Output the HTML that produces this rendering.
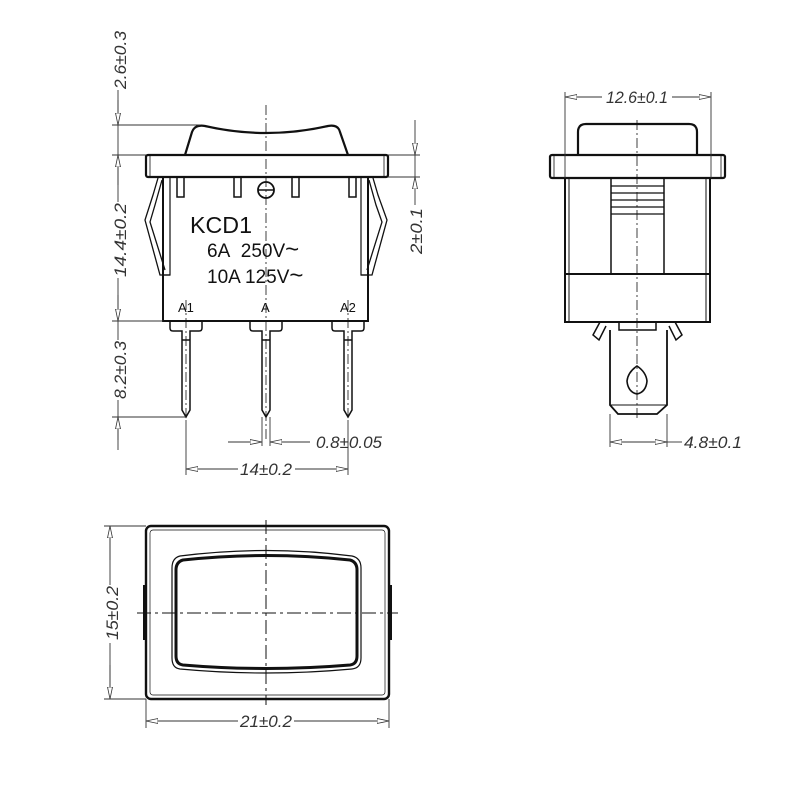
<!DOCTYPE html>
<html><head><meta charset="utf-8"><style>
html,body{margin:0;padding:0;background:#fff;}
svg{display:block}
.t{font-family:"Liberation Sans",sans-serif;font-style:italic;font-size:17px;fill:#333}
.k{font-family:"Liberation Sans",sans-serif;fill:#111}
</style></head><body>
<svg width="800" height="800" viewBox="0 0 800 800" xmlns="http://www.w3.org/2000/svg">
<defs>
<marker id="a" viewBox="0 0 12 6" refX="12" refY="3" markerWidth="12" markerHeight="6" orient="auto" markerUnits="userSpaceOnUse"><path d="M0,0.5 L12,3 L0,5.5 Z" fill="#fff" stroke="#333" stroke-width="0.8"/></marker>
</defs>
<g fill="none" stroke="#111">
<path d="M185,155 L192,132 Q195,124 205,126 Q266,140 328,126 Q338,124 340,132 L348,155" stroke-width="2.2"/>
<rect x="146" y="155" width="242" height="22" rx="2" stroke-width="2.2"/>
<line x1="150" y1="156" x2="150" y2="176" stroke-width="0.8"/>
<line x1="384" y1="156" x2="384" y2="176" stroke-width="0.8"/>
<path d="M163,177 L163,321 L368,321 L368,177" stroke-width="2"/>
<path d="M170,177 L170,275 L163,275" stroke-width="1.2"/>
<path d="M361,177 L361,275 L368,275" stroke-width="1.2"/>
<path d="M158,178 L153,195 L145,220 L160,275 L170,275 M162,180 L155,205 L150,222 L165,270" stroke-width="1.3"/>
<path d="M373,178 L378,195 L387,220 L372,275 L361,275 M369,180 L376,205 L382,222 L367,270" stroke-width="1.3"/>
<rect x="177" y="177" width="7" height="20" stroke-width="1.5"/>
<rect x="234" y="177" width="7" height="20" stroke-width="1.5"/>
<rect x="292" y="177" width="7" height="20" stroke-width="1.5"/>
<rect x="349" y="177" width="7" height="20" stroke-width="1.5"/>
<circle cx="266" cy="190" r="8" stroke-width="1.8"/>
<line x1="258" y1="190" x2="274" y2="190" stroke-width="1.5"/>
<g stroke-width="1.5">
<path d="M170,321 L170,328 Q170,331 173,331 L182,331 L182,410 L186,417 L190,410 L190,331 L199,331 Q202,331 202,328 L202,321"/>
<path d="M250,321 L250,328 Q250,331 253,331 L262,331 L262,410 L266,417 L270,410 L270,331 L279,331 Q282,331 282,328 L282,321"/>
<path d="M332,321 L332,328 Q332,331 335,331 L344,331 L344,410 L348,417 L352,410 L352,331 L361,331 Q364,331 364,328 L364,321"/>
<line x1="182" y1="340" x2="190" y2="340"/><line x1="262" y1="340" x2="270" y2="340"/><line x1="344" y1="340" x2="352" y2="340"/>
</g>
<g stroke-width="0.8" stroke-dasharray="10,3,2,3">
<line x1="266" y1="105" x2="266" y2="440"/>
<line x1="186" y1="300" x2="186" y2="420"/>
<line x1="348" y1="300" x2="348" y2="420"/>
</g>
<g stroke="#333" stroke-width="0.9">
<line x1="118" y1="90" x2="118" y2="450"/>
<line x1="112" y1="125" x2="200" y2="125"/>
<line x1="112" y1="155" x2="146" y2="155"/>
<line x1="112" y1="321" x2="163" y2="321"/>
<line x1="112" y1="417" x2="186" y2="417"/>
<line x1="118" y1="100" x2="118" y2="125" marker-end="url(#a)"/>
<line x1="118" y1="185" x2="118" y2="155" marker-end="url(#a)"/>
<line x1="118" y1="295" x2="118" y2="321" marker-end="url(#a)"/>
<line x1="118" y1="440" x2="118" y2="417" marker-end="url(#a)"/>
<line x1="388" y1="155" x2="420" y2="155"/>
<line x1="388" y1="177" x2="420" y2="177"/>
<line x1="415" y1="120" x2="415" y2="155" marker-end="url(#a)"/>
<line x1="415" y1="205" x2="415" y2="177" marker-end="url(#a)"/>
<line x1="415" y1="155" x2="415" y2="177"/>
<line x1="262" y1="417" x2="262" y2="446"/>
<line x1="270" y1="417" x2="270" y2="446"/>
<line x1="228" y1="442" x2="262" y2="442" marker-end="url(#a)"/>
<line x1="310" y1="442" x2="270" y2="442" marker-end="url(#a)"/>
<line x1="186" y1="420" x2="186" y2="475"/>
<line x1="348" y1="420" x2="348" y2="475"/>
<line x1="238" y1="469" x2="186" y2="469" marker-end="url(#a)"/>
<line x1="295" y1="469" x2="348" y2="469" marker-end="url(#a)"/>
</g>
<path d="M578,155 L578,132 Q578,124 586,124 L689,124 Q697,124 697,132 L697,155" stroke-width="2.2"/>
<rect x="550" y="155" width="175" height="23" rx="2" stroke-width="2.2"/>
<line x1="554" y1="156" x2="554" y2="177" stroke-width="0.8"/><line x1="721" y1="156" x2="721" y2="177" stroke-width="0.8"/>
<rect x="565" y="178" width="145" height="144" stroke-width="2"/>
<line x1="565" y1="274" x2="710" y2="274" stroke-width="2"/>
<line x1="569" y1="178" x2="569" y2="322" stroke-width="1"/><line x1="706" y1="178" x2="706" y2="322" stroke-width="1"/>
<line x1="611" y1="178" x2="611" y2="274" stroke-width="1.5"/><line x1="664" y1="178" x2="664" y2="274" stroke-width="1.5"/>
<g stroke-width="1.3"><line x1="611" y1="186" x2="664" y2="186"/><line x1="611" y1="193" x2="664" y2="193"/><line x1="611" y1="200" x2="664" y2="200"/><line x1="611" y1="207" x2="664" y2="207"/><line x1="611" y1="214" x2="664" y2="214"/></g>
<path d="M600,322 L593,335 L599,340 L606,326" stroke-width="1.5"/>
<path d="M675,322 L682,335 L676,340 L669,326" stroke-width="1.5"/>
<path d="M619,322 L619,330 L656,330 L656,322" stroke-width="1.5"/>
<path d="M610,330 L610,405 L618,414 L657,414 L667,405 L667,330" stroke-width="1.8"/>
<line x1="611" y1="405" x2="666" y2="405" stroke-width="1"/>
<path d="M637,366 Q628,372 627,381 Q628,392 637,394 Q646,392 647,381 Q646,372 637,366 Z" stroke-width="1.6"/>
<line x1="637" y1="120" x2="637" y2="420" stroke-width="0.8" stroke-dasharray="10,3,2,3"/>
<g stroke="#333" stroke-width="0.9">
<line x1="565" y1="92" x2="565" y2="178"/><line x1="711" y1="92" x2="711" y2="178"/>
<line x1="602" y1="97" x2="565" y2="97" marker-end="url(#a)"/>
<line x1="672" y1="97" x2="711" y2="97" marker-end="url(#a)"/>
<line x1="610" y1="414" x2="610" y2="447"/><line x1="667" y1="414" x2="667" y2="447"/>
<line x1="637" y1="442" x2="610" y2="442" marker-end="url(#a)"/>
<line x1="637" y1="442" x2="667" y2="442" marker-end="url(#a)"/>
<line x1="667" y1="442" x2="682" y2="442"/>
</g>
<rect x="146" y="526" width="243" height="173" rx="5" stroke-width="2.4"/>
<rect x="150" y="530" width="235" height="165" rx="3" stroke-width="0.7"/>
<rect x="143" y="585" width="4" height="55" fill="#111" stroke="none"/>
<rect x="388" y="585" width="4" height="55" fill="#111" stroke="none"/>
<path d="M180,556 Q266,545 352,556 Q361,558 361,568 L361,658 Q361,668 352,669 Q266,677 180,669 Q172,668 172,658 L172,568 Q172,558 180,556 Z" stroke-width="1.2"/>
<path d="M183,560 Q266,551 350,560 Q357,562 357,570 L357,656 Q357,664 350,665 Q266,672 183,665 Q176,664 176,656 L176,570 Q176,562 183,560 Z" stroke-width="3"/>
<g stroke-width="1" stroke-dasharray="14,4,3,4">
<line x1="266" y1="520" x2="266" y2="705"/>
<line x1="137" y1="613" x2="398" y2="613"/>
</g>
<g stroke="#333" stroke-width="0.9">
<line x1="104" y1="526" x2="146" y2="526"/><line x1="104" y1="699" x2="146" y2="699"/>
<line x1="110" y1="526" x2="110" y2="699"/>
<line x1="110" y1="560" x2="110" y2="526" marker-end="url(#a)"/>
<line x1="110" y1="665" x2="110" y2="699" marker-end="url(#a)"/>
<line x1="146" y1="699" x2="146" y2="728"/><line x1="389" y1="699" x2="389" y2="728"/>
<line x1="238" y1="721" x2="146" y2="721" marker-end="url(#a)"/>
<line x1="294" y1="721" x2="389" y2="721" marker-end="url(#a)"/>
</g>
</g>
<text class="k" x="190" y="233" font-size="23" textLength="62" lengthAdjust="spacingAndGlyphs">KCD1</text>
<text class="k" x="207" y="257" font-size="19">6A&#160;&#160;250V<tspan font-size="24">~</tspan></text>
<text class="k" x="207" y="283" font-size="19">10A 125V<tspan font-size="24">~</tspan></text>
<text class="k" x="178" y="312" font-size="13">A1</text>
<text class="k" x="261" y="312" font-size="13">A</text>
<text class="k" x="340" y="312" font-size="13">A2</text>
<rect x="110" y="30" width="16" height="60" fill="#fff"/>
<text class="t" transform="translate(126,60) rotate(-90)" text-anchor="middle" textLength="58" lengthAdjust="spacingAndGlyphs">2.6±0.3</text>
<rect x="110" y="202" width="16" height="76" fill="#fff"/>
<text class="t" transform="translate(126,240) rotate(-90)" text-anchor="middle" textLength="74" lengthAdjust="spacingAndGlyphs">14.4±0.2</text>
<rect x="110" y="340" width="16" height="60" fill="#fff"/>
<text class="t" transform="translate(126,370) rotate(-90)" text-anchor="middle" textLength="58" lengthAdjust="spacingAndGlyphs">8.2±0.3</text>
<text class="t" transform="translate(422,231) rotate(-90)" text-anchor="middle" textLength="46" lengthAdjust="spacingAndGlyphs">2±0.1</text>
<text class="t" x="316" y="448" textLength="66" lengthAdjust="spacingAndGlyphs">0.8±0.05</text>
<text class="t" x="266" y="475" text-anchor="middle" textLength="52" lengthAdjust="spacingAndGlyphs">14±0.2</text>
<text class="t" x="637" y="103" text-anchor="middle" textLength="62" lengthAdjust="spacingAndGlyphs">12.6±0.1</text>
<text class="t" x="684" y="448" textLength="58" lengthAdjust="spacingAndGlyphs">4.8±0.1</text>
<rect x="102" y="585" width="16" height="58" fill="#fff"/>
<text class="t" transform="translate(118,613) rotate(-90)" text-anchor="middle" textLength="54" lengthAdjust="spacingAndGlyphs">15±0.2</text>
<text class="t" x="266" y="727" text-anchor="middle" textLength="52" lengthAdjust="spacingAndGlyphs">21±0.2</text>
</svg>
</body></html>
